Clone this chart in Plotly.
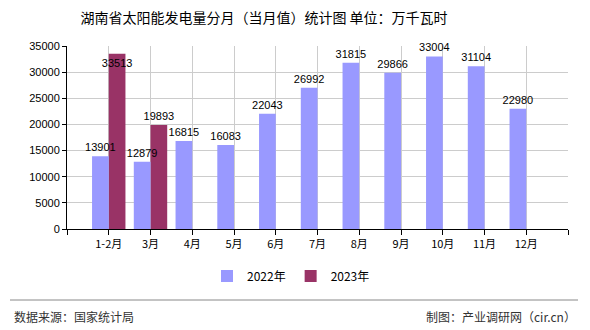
import plotly.graph_objects as go

categories = ["1-2月", "3月", "4月", "5月", "6月", "7月", "8月", "9月", "10月", "11月", "12月"]
values_2022 = [13901, 12879, 16815, 16083, 22043, 26992, 31815, 29866, 33004, 31104, 22980]
values_2023 = [33513, 19893]
series_names = ["2022年", "2023年"]
y_ticks = [0, 5000, 10000, 15000, 20000, 25000, 30000, 35000]

title_text = "湖南省太阳能发电量分月（当月值）统计图 单位：万千瓦时"
source_text = "数据来源：国家统计局"
maker_text = "制图：产业调研网（cir.cn）"

FONT = "Liberation Sans, Noto Sans CJK SC, sans-serif"
CJK = "Noto Sans CJK SC, sans-serif"

L, R, T, B = 67, 22, 46, 101
W, H = 590, 330
pw = W - L - R
ph = H - T - B

def px_x(x):
    return (x - L) / pw

def px_y(y):
    return (H - B - y) / ph

idx = list(range(len(categories)))
BW = 0.4

fig = go.Figure()
# 2023 drawn first so the 2022 labels sit on top of the 2023 bars
fig.add_trace(go.Bar(
    x=idx[:len(values_2023)], y=values_2023, name=series_names[1],
    width=BW, offset=0,
    marker=dict(color="#993366", line=dict(width=0)),
    text=[str(v) for v in values_2023],
    textposition=["inside" if v > 32000 else "outside" for v in values_2023],
    insidetextanchor="end",
    insidetextfont=dict(family=FONT, size=11, color="#000"),
    outsidetextfont=dict(family=FONT, size=11, color="#000"),
    textangle=0, constraintext="none", cliponaxis=False,
))
fig.add_trace(go.Bar(
    x=idx, y=values_2022, name=series_names[0],
    width=BW, offset=-BW,
    marker=dict(color="#9999FF", line=dict(width=0)),
    text=[str(v) for v in values_2022], textposition="outside",
    textfont=dict(family=FONT, size=11, color="#000"),
    textangle=0, constraintext="none", cliponaxis=False,
))

tickvals = list(range(-1, len(categories) + 1))
ticktext = [""] + categories + [""]

fig.update_layout(
    width=W, height=H,
    margin=dict(l=L, r=R, t=T, b=B, pad=0),
    paper_bgcolor="white", plot_bgcolor="white",
    barmode="overlay",
    font=dict(family=FONT, size=11, color="#000"),
    title=dict(text=title_text, x=264 / W, xanchor="center", xref="container",
               y=1 - 18 / H, yanchor="middle", yref="container",
               font=dict(family=CJK, size=14, color="#000")),
    xaxis=dict(range=[-1, len(categories)], tickvals=tickvals, ticktext=ticktext,
               showgrid=True, gridcolor="#cccccc", gridwidth=1,
               showline=True, linecolor="#000", linewidth=1,
               ticks="outside", ticklen=5, tickcolor="#000",
               tickfont=dict(family=CJK, size=11, color="#000"),
               zeroline=False, fixedrange=True),
    yaxis=dict(range=[0, 35000], tickvals=y_ticks, tickformat="d",
               showgrid=True, gridcolor="#cccccc", gridwidth=1,
               showline=True, linecolor="#000", linewidth=1,
               ticks="outside", ticklen=4, tickcolor="#000",
               tickfont=dict(family=FONT, size=11, color="#000"),
               zeroline=False, fixedrange=True),
    legend=dict(orientation="h", x=px_x(291), xanchor="center",
                y=px_y(276), yanchor="middle",
                font=dict(family=CJK, size=12, color="#000"),
                itemwidth=30, traceorder="reversed"),
    showlegend=True,
)

fig.add_shape(type="line", xref="paper", yref="paper",
              x0=px_x(10), x1=px_x(578), y0=px_y(300), y1=px_y(300),
              line=dict(color="#888888", width=1))
fig.add_annotation(text=source_text, xref="paper", yref="paper",
                   x=px_x(12), y=px_y(316), xanchor="left", yanchor="middle",
                   showarrow=False, font=dict(family=CJK, size=12, color="#333"))
fig.add_annotation(text=maker_text, xref="paper", yref="paper",
                   x=px_x(578), y=px_y(316), xanchor="right", yanchor="middle",
                   showarrow=False, font=dict(family=CJK, size=12, color="#333"))

fig.write_html("out.html", config={"displayModeBar": False})
